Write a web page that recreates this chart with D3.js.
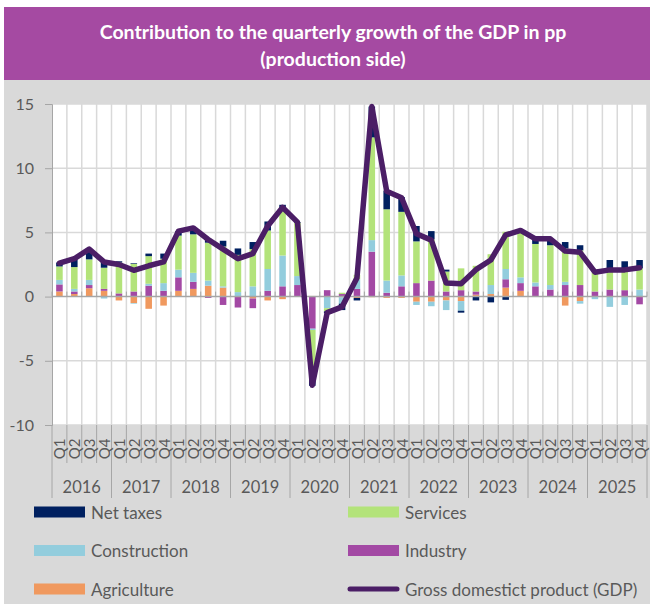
<!DOCTYPE html>
<html lang="en">
<head>
  <meta charset="UTF-8">
  <title>Contribution to GDP growth</title>
  <style>
    body{ margin: 0; background: #fff; }
    svg text{ font-family: Lato, "Open Sans", sans-serif; }
  </style>
</head>
<body>
  <div class="warp"></div>
  <script src="https://cdn.jsdelivr.net/npm/d3@7"></script>
  <script>
    // data (pp)
    var years = ['2016', '2017', '2018', '2019', '2020', '2021', '2022', '2023', '2024', '2025'];
    var quarters = ['Q1', 'Q2', 'Q3', 'Q4'];
    var yTicks = [15, 10, 5, 0, -5, -10];

    var agriculture = [0.4, 0.2, 0.65, 0.45, -0.3, -0.5, -0.95, -0.7, 0.45, 0.6, 0.85, 0.7, 0, -0.15, -0.3, -0.2,
      0, 0.05, 0, -0.05, -0.1, -0.05, -0.1, -0.1, -0.4, -0.4, -0.3, -0.35, 0.15, 0.2, 0.7, 0.45, 0, 0, -0.7, -0.35, 0, 0, 0, 0];
    var industry = [0.55, 0.2, 0.25, 0.15, 0.25, 0.4, 0.85, 0.45, 1.05, 0.55, -0.1, -0.65, -0.85, -0.75, 0.45, 0.8,
      0.9, -2.5, 0.5, 0.2, 0.6, 3.5, 0.3, 0.8, 1.05, 1.25, 0.4, 0.5, 0.25, 0, 0.65, 0.6, 0.8, 0.55, 0.9, 0.9, 0.4, 0.55, 0.5, -0.6];
    var construction = [0.35, 0.2, 0.4, -0.15, 0, -0.05, 0.15, 0.6, 0.6, 0.7, 0.4, 0.1, 0.35, 0.8, 1.7, 2.4,
      0.7, -0.1, -0.9, -0.5, 0.75, 0.9, 0.95, 0.85, -0.25, -0.35, -0.75, -0.75, 0, 0.7, 0.8, 0.45, 0.3, 0.35, 0.25, -0.2, -0.2, -0.8, -0.65, 0.55];
    var services = [1.05, 1.7, 1.6, 1.65, 2.4, 2.15, 2.15, 1.9, 2.65, 3.0, 2.95, 3.1, 2.9, 2.9, 3.0, 3.6,
      4.15, -3.75, -0.25, 0.1, 0.35, 8.0, 5.55, 4.95, 3.25, 3.2, 1.55, 1.7, 2.0, 2.4, 2.9, 3.65, 3.0, 3.1, 2.6, 2.7, 1.55, 1.65, 1.7, 1.65];
    var netTaxes = [0.3, 0.6, 0.75, 0.45, 0.1, 0.05, 0.2, 0.4, 0.35, 0.4, 0.3, 0.45, 0.5, 0.55, 0.7, 0.35,
      0.05, -0.6, -0.15, -0.5, -0.2, 2.4, 1.45, 1.15, 1.2, 0.65, 0.15, -0.15, -0.3, -0.45, -0.25, 0, 0.4, 0.5, 0.5, 0.4, 0.15, 0.65, 0.55, 0.65];
    var gdp = [2.6, 2.95, 3.7, 2.7, 2.5, 2.05, 2.4, 2.7, 5.1, 5.35, 4.45, 3.7, 2.95, 3.35, 5.5, 6.95,
      5.8, -6.9, -1.25, -0.8, 1.45, 14.8, 8.2, 7.7, 4.9, 4.4, 1.05, 1.0, 2.1, 2.85, 4.8, 5.15, 4.5, 4.5, 3.55, 3.45, 1.9, 2.08, 2.08, 2.25];

    var series = [
      {key: 'agriculture', name: 'Agriculture', color: '#f0995f', values: agriculture},
      {key: 'industry', name: 'Industry', color: '#a349a4', values: industry},
      {key: 'construction', name: 'Construction', color: '#93cddd', values: construction},
      {key: 'services', name: 'Services', color: '#b3e37a', values: services},
      {key: 'netTaxes', name: 'Net taxes', color: '#002060', values: netTaxes}
    ];
    var lineColor = '#4b1e66';

    var cats = [];
    years.forEach(function(yr) {
      quarters.forEach(function(q) { cats.push(yr + ' ' + q); });
    });
    var rows = cats.map(function(c, i) {
      var r = {cat: c};
      series.forEach(function(s) { r[s.key] = s.values[i]; });
      return r;
    });

    var W = 654, H = 607;
    var svg = d3.select('.warp').append('svg').attr('width', W).attr('height', H);

    // panels
    svg.append('rect').attr('x', 4).attr('y', 80).attr('width', 646).attr('height', 524).attr('fill', '#d9d9d9');
    svg.append('rect').attr('x', 4).attr('y', 7).attr('width', 646).attr('height', 73).attr('fill', '#a54aa2');
    svg.append('text').attr('x', 333).attr('y', 39).attr('text-anchor', 'middle')
      .attr('fill', '#fff').attr('font-size', 19.5).attr('font-weight', 'bold')
      .text('Contribution to the quarterly growth of the GDP in pp');
    svg.append('text').attr('x', 333).attr('y', 66).attr('text-anchor', 'middle')
      .attr('fill', '#fff').attr('font-size', 19.5).attr('font-weight', 'bold')
      .text('(production side)');

    // plot box (top is a window global, so other names)
    var pL = 52, pR = 647, pT = 104, pB = 425;
    var x = d3.scaleBand().domain(cats).range([pL, pR]).paddingInner(0.56).paddingOuter(0.28);
    var y = d3.scaleLinear().domain([-10, 15]).range([pB, pT]);
    var step = x.step();
    var bounds = d3.range(cats.length + 1).map(function(i) { return pL + i * step; });

    svg.append('rect').attr('x', pL).attr('y', pT).attr('width', pR - pL).attr('height', pB - pT).attr('fill', '#fff');

    // grid
    svg.append('g').selectAll('line').data(yTicks.filter(function(d) { return d !== 0; }))
      .enter().append('line')
      .attr('x1', pL).attr('x2', pR)
      .attr('y1', function(d) { return y(d); }).attr('y2', function(d) { return y(d); })
      .attr('stroke', '#d9d9d9').attr('stroke-width', 1.5);
    svg.append('g').selectAll('line').data(bounds.slice(1))
      .enter().append('line')
      .attr('x1', function(d) { return d; }).attr('x2', function(d) { return d; })
      .attr('y1', pT).attr('y2', pB)
      .attr('stroke', '#d9d9d9').attr('stroke-width', 1.5);

    // bars
    var stack = d3.stack().keys(series.map(function(s) { return s.key; })).offset(d3.stackOffsetDiverging);
    var layers = stack(rows);
    svg.append('g').selectAll('g').data(layers)
      .enter().append('g')
      .attr('fill', function(d, i) { return series[i].color; })
      .selectAll('rect').data(function(d) { return d; })
      .enter().append('rect')
      .attr('x', function(d) { return x(d.data.cat); })
      .attr('width', x.bandwidth())
      .attr('y', function(d) { return y(Math.max(d[0], d[1])); })
      .attr('height', function(d) { return Math.abs(y(d[0]) - y(d[1])); });

    // zero line with small ticks
    svg.append('line').attr('x1', pL).attr('x2', pR).attr('y1', y(0)).attr('y2', y(0))
      .attr('stroke', '#a6a6a6').attr('stroke-width', 1.5);
    svg.append('g').selectAll('line').data(bounds)
      .enter().append('line')
      .attr('x1', function(d) { return d; }).attr('x2', function(d) { return d; })
      .attr('y1', y(0) - 5).attr('y2', y(0))
      .attr('stroke', '#a6a6a6');

    // gdp line
    var line = d3.line()
      .x(function(d, i) { return x(cats[i]) + x.bandwidth() / 2; })
      .y(function(d) { return y(d); });
    svg.append('path').datum(gdp)
      .attr('d', line)
      .attr('fill', 'none')
      .attr('stroke', lineColor)
      .attr('stroke-width', 5.5)
      .attr('stroke-linejoin', 'round')
      .attr('stroke-linecap', 'round');

    // y axis (plain hyphen for negatives, like the original)
    var yAxis = svg.append('g').attr('transform', 'translate(' + pL + ',0)')
      .call(d3.axisLeft(y).tickValues(yTicks).tickSize(7).tickPadding(11)
        .tickFormat(function(d) { return String(d); }));
    yAxis.selectAll('path, line').attr('stroke', '#a6a6a6');
    yAxis.selectAll('text').attr('font-size', 16).attr('fill', '#595959')
      .style('font-family', 'Lato, "Open Sans", sans-serif');

    // x axis: quarter and year separators, labels
    svg.append('g').selectAll('line').data(bounds)
      .enter().append('line')
      .attr('x1', function(d) { return d; }).attr('x2', function(d) { return d; })
      .attr('y1', pB)
      .attr('y2', function(d, i) { return i % 4 === 0 ? 498 : 463; })
      .attr('stroke', '#a6a6a6');
    svg.append('g').selectAll('text').data(cats)
      .enter().append('text')
      .attr('transform', function(d) {
        return 'translate(' + (x(d) + x.bandwidth() / 2) + ',449) rotate(-90)';
      })
      .attr('text-anchor', 'middle')
      .attr('dominant-baseline', 'central')
      .attr('font-size', 15).attr('fill', '#595959')
      .text(function(d) { return d.split(' ')[1]; });
    svg.append('g').selectAll('text').data(years)
      .enter().append('text')
      .attr('x', function(d, i) { return pL + (i * 4 + 2) * step; })
      .attr('y', 493)
      .attr('text-anchor', 'middle')
      .attr('font-size', 16.5).attr('fill', '#595959')
      .text(function(d) { return d; });

    // legend
    var legend = [
      {name: 'Net taxes', color: '#002060', col: 0, row: 0},
      {name: 'Services', color: '#b3e37a', col: 1, row: 0},
      {name: 'Construction', color: '#93cddd', col: 0, row: 1},
      {name: 'Industry', color: '#a349a4', col: 1, row: 1},
      {name: 'Agriculture', color: '#f0995f', col: 0, row: 2},
      {name: 'Gross domestict product (GDP)', color: lineColor, col: 1, row: 2, line: true}
    ];
    var lg = svg.append('g').selectAll('g').data(legend).enter().append('g')
      .attr('transform', function(d) { return 'translate(' + (d.col ? 348 : 34) + ',' + (512 + d.row * 38.5) + ')'; });
    lg.filter(function(d) { return !d.line; }).append('rect')
      .attr('x', 0).attr('y', -5.5).attr('width', 51).attr('height', 11)
      .attr('fill', function(d) { return d.color; });
    lg.filter(function(d) { return d.line; }).append('line')
      .attr('x1', 2).attr('x2', 49).attr('y1', 0).attr('y2', 0)
      .attr('stroke', function(d) { return d.color; })
      .attr('stroke-width', 5).attr('stroke-linecap', 'round');
    lg.append('text').attr('x', 57).attr('y', 0)
      .attr('dominant-baseline', 'central')
      .attr('font-size', 17).attr('fill', '#595959')
      .text(function(d) { return d.name; });
  </script>
</body>
</html>
